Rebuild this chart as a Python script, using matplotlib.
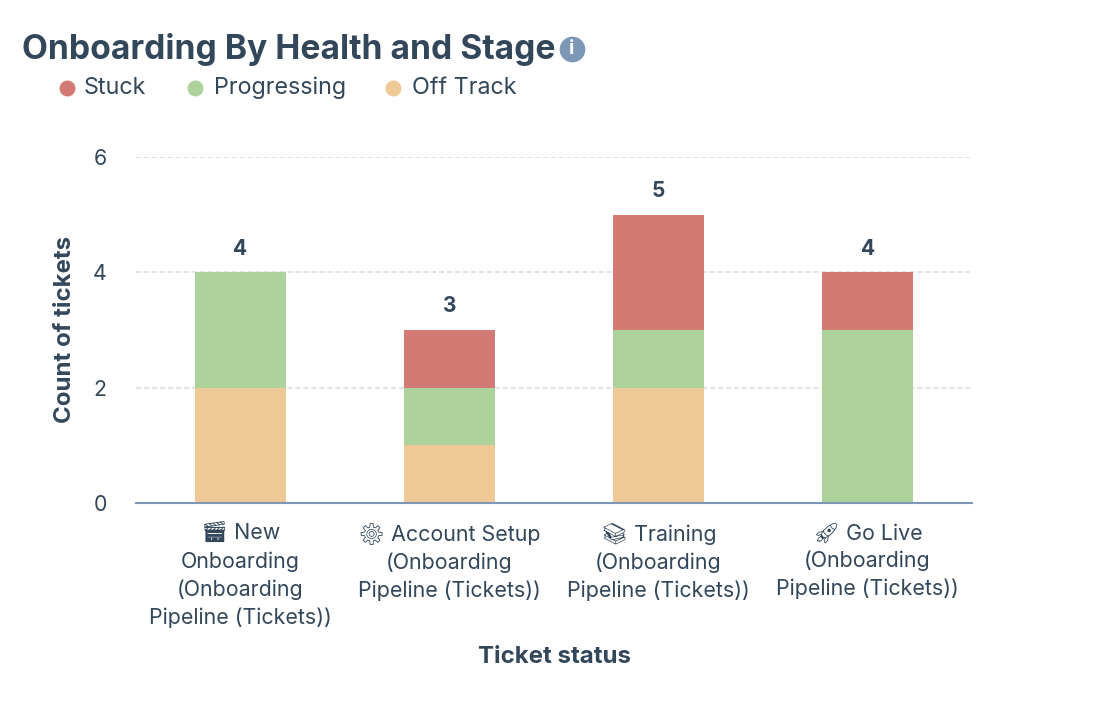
import matplotlib; matplotlib.use("Agg")
import matplotlib.pyplot as plt
import numpy as np
from matplotlib.lines import Line2D

plt.rcParams["font.family"] = ["Inter", "Noto Emoji", "DejaVu Sans"]

title = "Onboarding By Health and Stage"
stages = ["\U0001F3AC New\nOnboarding\n(Onboarding\nPipeline (Tickets))",
          "\u2699\ufe0f Account Setup\n(Onboarding\nPipeline (Tickets))",
          "\U0001F4DA Training\n(Onboarding\nPipeline (Tickets))",
          "\U0001F680 Go Live\n(Onboarding\nPipeline (Tickets))"]
# stacked bottom to top
off_track = [2, 1, 2, 0]
progressing = [2, 1, 1, 3]
stuck = [0, 1, 2, 1]
legend_names = ["Stuck", "Progressing", "Off Track"]

INK = "#33475b"
RED, GREEN, ORANGE = "#d47a75", "#aed29c", "#eec895"
W, H = 1096, 724

fig = plt.figure(figsize=(W / 100, H / 100), dpi=100)
ax = fig.add_axes([136 / W, 1 - 503 / H, (972 - 136) / W, (503 - 157) / H])

x = np.arange(len(stages))
bottom = np.zeros(len(stages))
for vals, col in [(off_track, ORANGE), (progressing, GREEN), (stuck, RED)]:
    ax.bar(x, vals, 0.44, bottom=bottom, color=col, zorder=3)
    bottom += np.array(vals)

for xi, total in zip(x, bottom):
    ax.annotate(f"{int(total)}", (xi, total), xytext=(0, 17), textcoords="offset points",
                ha="center", va="center", fontsize=15, fontweight="bold", color=INK)

ax.set_xlim(-0.5, 3.5)
ax.set_ylim(0, 6)
ax.set_yticks([0, 2, 4, 6])
ax.set_xticks(x, stages, linespacing=1.45)
ax.tick_params(length=0, labelsize=15.4, labelcolor=INK)
ax.tick_params(axis="y", pad=21)
ax.tick_params(axis="x", pad=14.5)
ax.grid(axis="y", color="#dfe3eb", linestyle=(0, (2.6, 1.5)), linewidth=1.4, zorder=0)
for s in ["top", "left", "right"]:
    ax.spines[s].set_visible(False)
ax.spines["bottom"].set_color("#7c98b6")
ax.spines["bottom"].set_linewidth(1.5)
ax.spines["bottom"].set_zorder(4)

fig.text(65 / W, 1 - 329 / H, "Count of tickets", rotation=90, ha="center", va="center",
         fontsize=17.3, fontweight="bold", color=INK)
fig.text(554 / W, 1 - 657 / H, "Ticket status", ha="center", va="center",
         fontsize=17.3, fontweight="bold", color=INK)

fig.text(22 / W, 1 - 50 / H, title, ha="left", va="center", fontsize=24.2, fontweight="bold", color=INK)
fig.add_artist(Line2D([572 / W], [1 - 49 / H], marker="o", ms=18.5, color="#7c98b6", mew=0))
fig.text(572 / W, 1 - 49 / H, "i", ha="center", va="center", fontsize=14, fontweight="bold", color="white")

for name, col, mx, tx in zip(legend_names, [RED, GREEN, ORANGE], [67, 195, 393], [84, 214, 412]):
    fig.add_artist(Line2D([mx / W], [1 - 88 / H], marker="o", ms=11.5, color=col, mew=0))
    fig.text(tx / W, 1 - 88 / H, name, ha="left", va="center", fontsize=16.8, color=INK)

fig.savefig("out.png", dpi=100)
